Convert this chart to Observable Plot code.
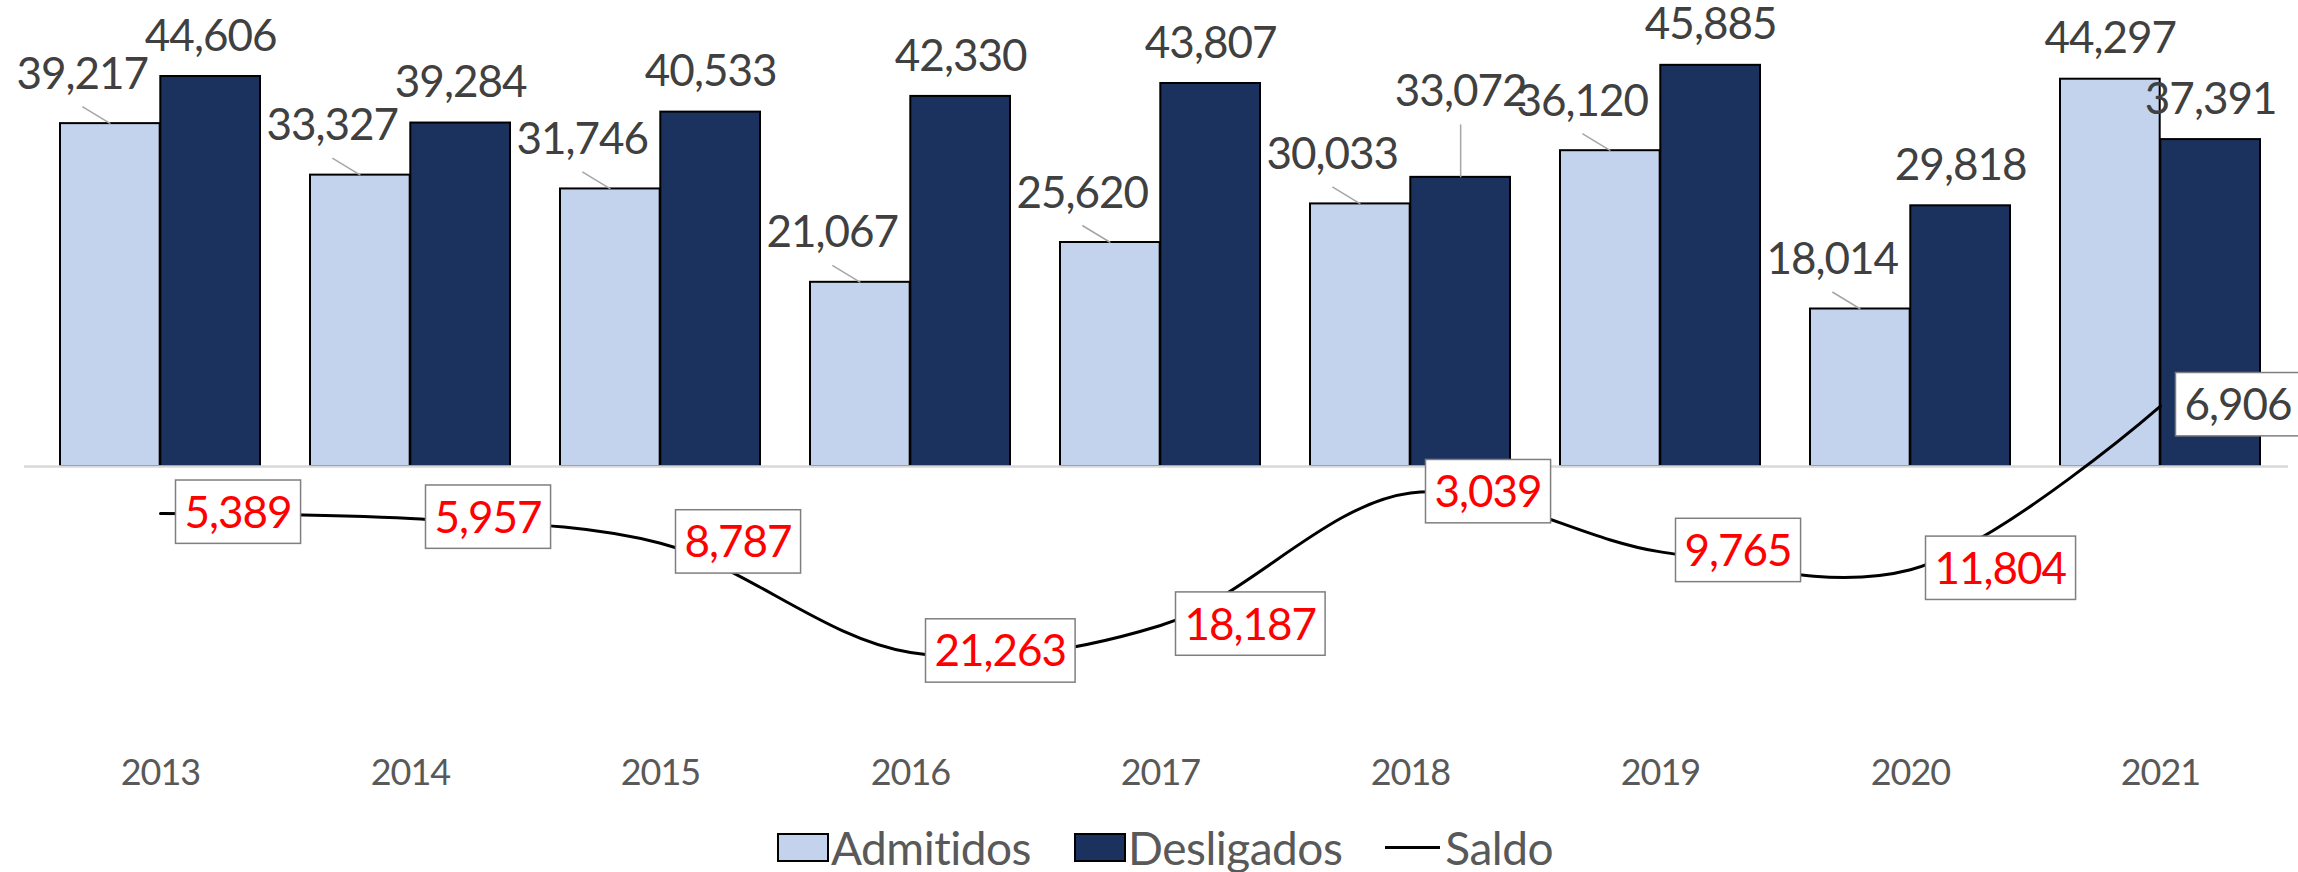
<!DOCTYPE html>
<html>
<head>
<meta charset="utf-8">
<script src="https://cdn.jsdelivr.net/npm/d3@7"></script>
<script src="https://cdn.jsdelivr.net/npm/@observablehq/plot@0.6"></script>
<style>
  html, body { margin: 0; padding: 0; background: #fff; }
  #chart { width: 2298px; height: 800px; }
  .legend { width: 2298px; height: 72px; box-sizing: border-box; padding-top: 22px; padding-left: 32px;
            display: flex; justify-content: center; align-items: center;
            font-family: Lato, sans-serif; font-size: 46px; color: #595959; letter-spacing: -0.5px; }
  .legend .item { display: flex; align-items: center; margin-right: 43px; }
  .legend .item:last-child { margin-right: 0; }
  .legend .sw { width: 48px; height: 25px; border: 2px solid #000; margin-right: 2px; }
  .legend .ln { width: 55px; height: 3px; background: #000; margin-right: 5px; }
</style>
</head>
<body>
<div id="chart"></div>
<div class="legend" id="legend"></div>
<script>
// ---- data ----
const years = [2013, 2014, 2015, 2016, 2017, 2018, 2019, 2020, 2021];
const admitidos = [39217, 33327, 31746, 21067, 25620, 30033, 36120, 18014, 44297];
const desligados = [44606, 39284, 40533, 42330, 43807, 33072, 45885, 29818, 37391];
const saldo = [-5389, -5957, -8787, -21263, -18187, -3039, -9765, -11804, 6906];
const seriesNames = ["Admitidos", "Desligados", "Saldo"];

// ---- colours ----
const cAdm = "#C3D2ED", cDesl = "#1C325E", cLabel = "#404040", cNeg = "#FF0000";

// ---- layout ----
const W = 2298, H = 800;
const xRange = [31.6, 2288.4];
const step = (xRange[1] - xRange[0]) / years.length;
const bw = step * 0.8;
const half = bw / 4;
const y0px = 466, pxPerUnit = 0.008743;

const rows = years.map((year, i) => ({
  year: String(year), adm: admitidos[i], desl: desligados[i], saldo: saldo[i]
}));
const fmt = d3.format(",");

// leader curve: start point offset in pixels, end at data point
function leaderCurve(ox, oy) {
  return (context) => ({
    _i: 0,
    areaStart() {}, areaEnd() {},
    lineStart() { this._i = 0; },
    lineEnd() {},
    point(x, y) {
      if (this._i++ === 0) context.moveTo(x + ox, y + oy);
      else context.lineTo(x, y);
    }
  });
}

const labelFont = 44;
const leader = {stroke: "#A6A6A6", strokeWidth: 1.5};

const chart = Plot.plot({
  width: W, height: H,
  marginLeft: 24, marginRight: 10, marginTop: 0, marginBottom: 60,
  style: {fontFamily: "Lato, sans-serif", fontSize: "36px", color: "#595959", background: "white", letterSpacing: "-1px", overflow: "visible"},
  x: {domain: years.map(String), range: xRange, paddingInner: 0.2, paddingOuter: 0.1, tickSize: 0, tickPadding: 19, label: null},
  y: {domain: [0, 40000], range: [y0px, y0px - 40000 * pxPerUnit], axis: null},
  marks: [
    Plot.barY(rows, {x: "year", y: "adm", fill: cAdm, stroke: "#000", strokeWidth: 2, insetRight: bw / 2}),
    Plot.barY(rows, {x: "year", y: "desl", fill: cDesl, stroke: "#000", strokeWidth: 2, insetLeft: bw / 2}),
    Plot.ruleY([0], {stroke: "#D9D9D9", strokeWidth: 2.5}),
    Plot.line(rows, {x: "year", y: "saldo", stroke: "#000", strokeWidth: 3, curve: "catmull-rom"}),
    // Admitidos labels with leaders
    Plot.link(rows.filter(d => d.year !== "2021"), {x1: "year", x2: "year", y1: "adm", y2: "adm", dx: -half, curve: leaderCurve(-28, -17), ...leader}),
    Plot.text(rows.filter(d => d.year !== "2021"), {x: "year", y: "adm", text: d => fmt(d.adm), dx: -half - 28, dy: -49, fontSize: labelFont, fill: cLabel}),
    Plot.text(rows.filter(d => d.year === "2021"), {x: "year", y: "adm", text: d => fmt(d.adm), dx: -half, dy: -40, fontSize: labelFont, fill: cLabel}),
    // Desligados labels
    Plot.text(rows.filter(d => d.year !== "2018"), {x: "year", y: "desl", text: d => fmt(d.desl), dx: half, dy: -40, fontSize: labelFont, fill: cLabel}),
    Plot.link(rows.filter(d => d.year === "2018"), {x1: "year", x2: "year", y1: "desl", y2: "desl", dx: half, curve: leaderCurve(0, -53), ...leader}),
    Plot.text(rows.filter(d => d.year === "2018"), {x: "year", y: "desl", text: d => fmt(d.desl), dx: half, dy: -85, fontSize: labelFont, fill: cLabel}),
    // Saldo labels (boxed)
    Plot.text(rows.filter(d => d.saldo < 0), {x: "year", y: "saldo", text: d => fmt(Math.abs(d.saldo)), textAnchor: "start", dx: 24, fontSize: labelFont, fill: cNeg, ariaDescription: "saldo-label"}),
    Plot.text(rows.filter(d => d.saldo >= 0), {x: "year", y: "saldo", text: d => fmt(d.saldo), textAnchor: "start", dx: 24, fontSize: labelFont, fill: cLabel, ariaDescription: "saldo-label"})
  ]
});

document.getElementById("chart").append(chart);

// white boxes with grey border behind Saldo labels
chart.querySelectorAll('g[aria-description="saldo-label"] text').forEach(t => {
  const b = t.getBBox();
  const bh = labelFont * 1.44;
  const cy = b.y + b.height / 2;
  const r = document.createElementNS("http://www.w3.org/2000/svg", "rect");
  r.setAttribute("x", b.x - 9);
  r.setAttribute("y", cy - bh / 2 + 1);
  r.setAttribute("width", b.width + 18);
  r.setAttribute("height", bh);
  r.setAttribute("fill", "#fff");
  r.setAttribute("stroke", "#7F7F7F");
  r.setAttribute("stroke-width", 1.5);
  const tr = t.getAttribute("transform");
  if (tr) r.setAttribute("transform", tr);
  t.parentNode.insertBefore(r, t);
});

// legend
const legend = document.getElementById("legend");
seriesNames.forEach((name, i) => {
  const item = document.createElement("div");
  item.className = "item";
  const sw = document.createElement("div");
  if (i < 2) { sw.className = "sw"; sw.style.background = i === 0 ? cAdm : cDesl; }
  else sw.className = "ln";
  const label = document.createElement("span");
  label.textContent = name;
  item.append(sw, label);
  legend.append(item);
});
</script>
</body>
</html>
